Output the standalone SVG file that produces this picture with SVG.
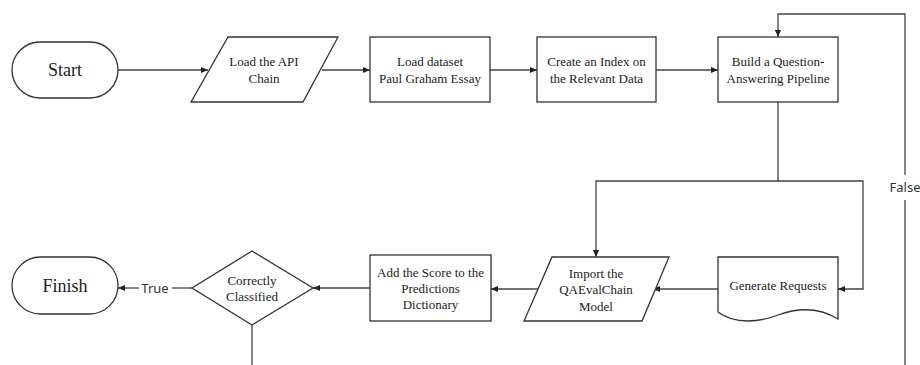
<svg xmlns="http://www.w3.org/2000/svg" width="920" height="365" viewBox="0 0 920 365">
<style>
.s{fill:#fff;stroke:#333;stroke-width:1.3}
.c{fill:none;stroke:#444;stroke-width:1.3}
.t{font-family:"Liberation Serif","Times New Roman",serif;font-size:13px;fill:#222;text-anchor:middle}
.big{font-size:18px}
.l{font-family:"Noto Sans","Open Sans",sans-serif;font-size:13px;fill:#333;text-anchor:middle}
</style>
<defs>
<marker id="a" viewBox="0 0 8 8" refX="8" refY="4" markerWidth="7" markerHeight="7" markerUnits="userSpaceOnUse" orient="auto">
<path d="M0,0.5 L8,4 L0,7.5 Z" fill="#222"/>
</marker>
</defs>
<rect width="920" height="365" fill="#fff"/>
<g id="connectors">
<path class="c" d="M118,70 H208" marker-end="url(#a)"/>
<path class="c" d="M322,70 H370" marker-end="url(#a)"/>
<path class="c" d="M490,70 H537" marker-end="url(#a)"/>
<path class="c" d="M656,70 H718" marker-end="url(#a)"/>
<path class="c" d="M905,175 V14 H778 V37" marker-end="url(#a)"/>
<path class="c" d="M905,200 V365"/>
<path class="c" d="M778,102 V181 H596 V257" marker-end="url(#a)"/>
<path class="c" d="M778,181 H863 V289 H838" marker-end="url(#a)"/>
<path class="c" d="M718,289 H653" marker-end="url(#a)"/>
<path class="c" d="M543,289 H491" marker-end="url(#a)"/>
<path class="c" d="M370,288 H313" marker-end="url(#a)"/>
<path class="c" d="M192,288 H172"/>
<path class="c" d="M139,288 H118" marker-end="url(#a)"/>
<path class="c" d="M252,325 V365"/>
<text class="l" x="155" y="292.5">True</text>
<text class="l" x="905" y="192">False</text>
</g>
<g id="start">
<rect class="s" x="12" y="42" width="106" height="56" rx="28"/>
<text class="t big" x="65" y="76">Start</text>
</g>
<g id="load-api">
<path class="s" d="M228,37 H338 L303,102 H191 Z"/>
<text class="t" x="264" y="66">Load the API</text>
<text class="t" x="264" y="83">Chain</text>
</g>
<g id="load-dataset">
<rect class="s" x="370" y="37" width="120" height="65"/>
<text class="t" x="430" y="66">Load dataset</text>
<text class="t" x="430" y="83">Paul Graham Essay</text>
</g>
<g id="create-index">
<rect class="s" x="537" y="37" width="119" height="65"/>
<text class="t" x="596.5" y="66">Create an Index on</text>
<text class="t" x="596.5" y="83">the Relevant Data</text>
</g>
<g id="build-qa">
<rect class="s" x="718" y="37" width="120" height="65"/>
<text class="t" x="778" y="66">Build a Question-</text>
<text class="t" x="778" y="83">Answering Pipeline</text>
</g>
<g id="generate-requests">
<path class="s" d="M718,257 H838 V319 C820,308 800,307 778,315 C760,322 735,325 718,312 Z"/>
<text class="t" x="778" y="290">Generate Requests</text>
</g>
<g id="import-qaeval">
<path class="s" d="M552,257 H669 L642,321 H524 Z"/>
<text class="t" x="596" y="278">Import the</text>
<text class="t" x="596" y="294">QAEvalChain</text>
<text class="t" x="596" y="311">Model</text>
</g>
<g id="add-score">
<rect class="s" x="370" y="255" width="121" height="66"/>
<text class="t" x="430.5" y="277">Add the Score to the</text>
<text class="t" x="430.5" y="293">Predictions</text>
<text class="t" x="430.5" y="309">Dictionary</text>
</g>
<g id="correctly-classified">
<path class="s" d="M252,251 L313,288 L252,325 L192,288 Z"/>
<text class="t" x="252" y="285">Correctly</text>
<text class="t" x="252" y="301">Classified</text>
</g>
<g id="finish">
<rect class="s" x="12" y="257" width="106" height="57" rx="28.5"/>
<text class="t big" x="65" y="292">Finish</text>
</g>
</svg>
